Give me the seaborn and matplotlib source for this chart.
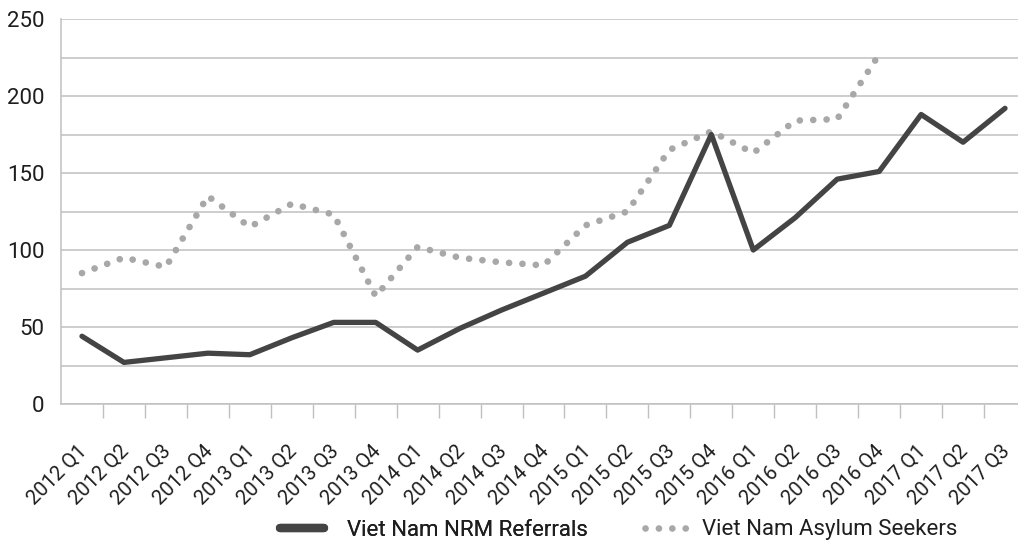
import numpy as np
import pandas as pd
import seaborn as sns
from matplotlib import pyplot as plt
from matplotlib import transforms
from matplotlib.lines import Line2D

quarters = [
    "2012 Q1", "2012 Q2", "2012 Q3", "2012 Q4",
    "2013 Q1", "2013 Q2", "2013 Q3", "2013 Q4",
    "2014 Q1", "2014 Q2", "2014 Q3", "2014 Q4",
    "2015 Q1", "2015 Q2", "2015 Q3", "2015 Q4",
    "2016 Q1", "2016 Q2", "2016 Q3", "2016 Q4",
    "2017 Q1", "2017 Q2", "2017 Q3",
]
nrm_referrals = [44, 27, 30, 33, 32, 43, 53, 53, 35, 49, 61, 72, 83, 105, 116,
                 175, 100, 121, 146, 151, 188, 170, 192]
asylum_seekers = [85, 95, 89, 135, 115, 130, 123, 70, 102, 95, 92, 90, 116, 125,
                  165, 177, 163, 184, 185, 227]

NRM_COLOR = "#444444"
ASY_COLOR = "#a8a8a8"
TEXT_COLOR = "#1e1e1e"
GRID_COLOR = "#c0c0c0"
DOTS = (0, (0.01, 2.0))


def main():
    sns.set_style("white")
    plt.rcParams['font.family'] = ['Roboto', 'DejaVu Sans']

    df_nrm = pd.DataFrame({"pos": np.arange(len(nrm_referrals)), "value": nrm_referrals})
    df_asy = pd.DataFrame({"pos": np.arange(len(asylum_seekers)), "value": asylum_seekers})

    fig = plt.figure(figsize=(10.18, 5.45), dpi=100)
    ax = fig.add_axes([61 / 1018, 1 - 404 / 545, (1026 - 61) / 1018, (404 - 19) / 545])

    sns.lineplot(data=df_asy, x="pos", y="value", ax=ax, color=ASY_COLOR,
                 linewidth=4.8, linestyle=DOTS, dash_capstyle="round", zorder=3)
    sns.lineplot(data=df_nrm, x="pos", y="value", ax=ax, color=NRM_COLOR,
                 linewidth=3.8, zorder=4)

    ax.set_xlim(-0.5, len(quarters) - 0.5)
    ax.set_ylim(0, 250)
    ax.set_yticks(np.arange(0, 251, 25))
    ax.set_yticklabels([str(v) if v % 50 == 0 else "" for v in range(0, 251, 25)])
    ax.yaxis.grid(True, color=GRID_COLOR, linewidth=1.1)
    ax.tick_params(axis="y", length=0, pad=12, labelsize=16, labelcolor=TEXT_COLOR)

    # category labels at centres, tick marks at the boundaries
    ax.set_xticks(np.arange(len(quarters)))
    ax.set_xticklabels(quarters, rotation=45, ha="right", va="center",
                       rotation_mode="anchor")
    ax.set_xticks(np.arange(0.5, len(quarters) - 0.5, 1), minor=True)
    ax.tick_params(axis="x", which="major", length=0, pad=32, labelsize=14.5,
                   labelcolor=TEXT_COLOR)
    ax.tick_params(axis="x", which="minor", length=10, width=1, color=GRID_COLOR,
                   direction="out", bottom=True)
    shift = transforms.ScaledTranslation(2 / 100, 0, fig.dpi_scale_trans)
    for lbl in ax.get_xticklabels():
        lbl.set_transform(lbl.get_transform() + shift)
    ax.set_xlabel("")
    ax.set_ylabel("")

    for side in ["top", "right"]:
        ax.spines[side].set_visible(False)
    for side in ["left", "bottom"]:
        ax.spines[side].set_color(GRID_COLOR)
        ax.spines[side].set_linewidth(1.1)

    leg_y = 1 - 530 / 545
    h1 = Line2D([], [], color=NRM_COLOR, linewidth=6)
    h2 = Line2D([], [], color=ASY_COLOR, linewidth=4.8, linestyle=DOTS,
                dash_capstyle="round")
    leg1 = fig.legend([h1], ["Viet Nam NRM Referrals"], loc="center left",
                      bbox_to_anchor=(280 / 1018, leg_y), frameon=False, fontsize=16,
                      handlelength=2.0, handletextpad=1.0, borderpad=0,
                      borderaxespad=0, labelcolor=TEXT_COLOR)
    fig.add_artist(leg1)
    fig.legend([h2], ["Viet Nam Asylum Seekers"], loc="center left",
               bbox_to_anchor=(645 / 1018, leg_y), frameon=False, fontsize=16,
               handlelength=2.2, handletextpad=0.35, borderpad=0,
               borderaxespad=0, labelcolor=TEXT_COLOR)

    fig.savefig("out.png", dpi=100)


if __name__ == '__main__':
    main()
